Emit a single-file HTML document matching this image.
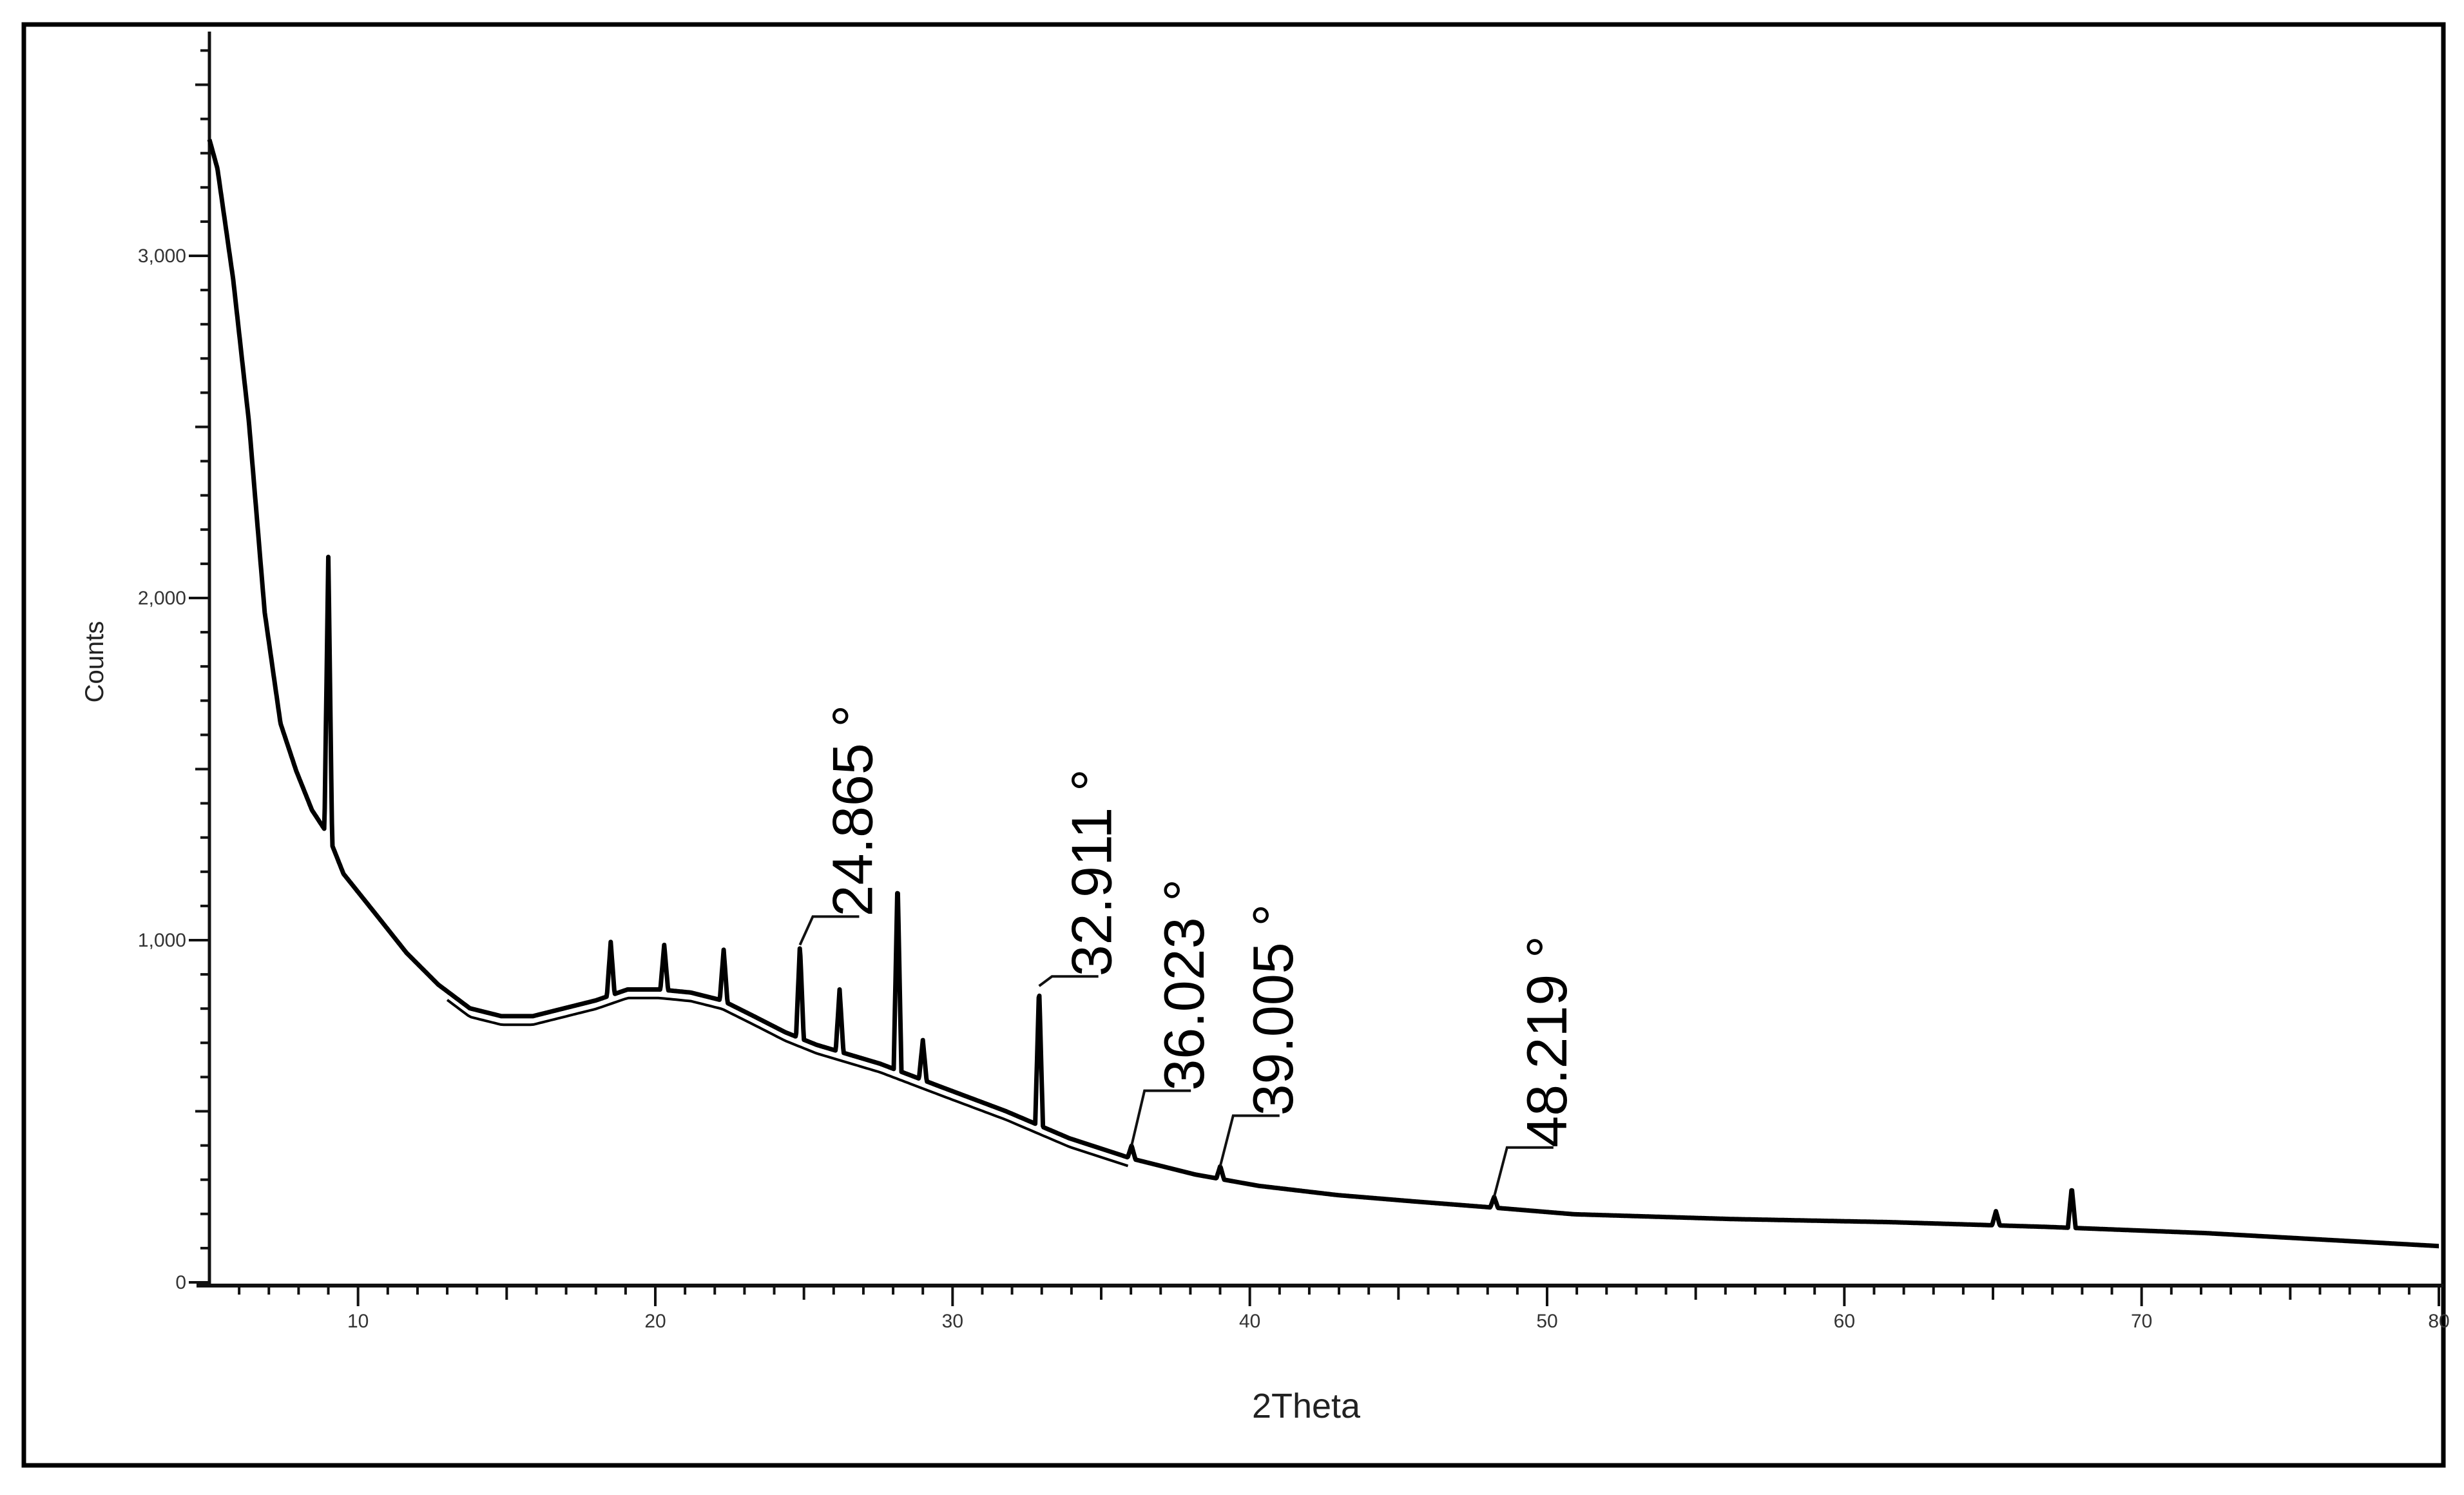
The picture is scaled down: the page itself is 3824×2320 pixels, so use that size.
<!DOCTYPE html>
<html><head><meta charset="utf-8"><style>
html,body{margin:0;padding:0;background:#fff;}
svg{display:block;}
text{font-family:"Liberation Sans",Arial,sans-serif;}
</style></head><body>
<svg id="chart" width="3824" height="2320" viewBox="0 0 3824 2320" xmlns="http://www.w3.org/2000/svg">
<rect x="0" y="0" width="3824" height="2320" fill="#fff"/>
<rect x="37" y="38" width="3755" height="2236" fill="none" stroke="#000" stroke-width="7"/>
<g id="axes"></g>
<g id="series"></g>
<g id="annots"></g>
<text x="2027" y="2200" font-size="54" text-anchor="middle" fill="#222">2Theta</text>
<text transform="translate(160,1027) rotate(-90)" font-size="40" text-anchor="middle" fill="#222">Counts</text>
</svg>
<script>
// background (smoothed) pattern: 2Theta vs counts
const bgTheta = [5,5.27,5.8,6.33,6.86,7.39,7.92,8.45,8.98,9.51,10.57,11.63,12.7,13.76,14.82,15.88,16.94,18,19.07,20.13,21.19,22.25,23.31,24.37,25.43,27.56,29.68,31.8,33.93,36.05,38.17,40.3,42.95,45.6,48.26,50.91,56.22,61.53,66.84,72.14,80];
const bgCounts = [3340,3255,2931,2514,1958,1634,1495,1380,1310,1194,1079,963,870,801,778,778,801,824,856,856,847,824,778,731,694,639,569,500,421,361,315,282,255,236,218,199,185,176,162,144,106];
// sharp peaks
const peakTheta = [9.0,18.5,20.3,22.3,24.865,26.2,28.15,29.0,32.911,36.023,39.005,48.219,65.1,67.65];
const peakTop = [2120,995,986,972,986,856,1180,708,866,400,340,250,208,278];
// annotations
const annotTheta = [24.865,32.911,36.023,39.005,48.219];
const annotLabels = ["24.865 °","32.911 °","36.023 °","39.005 °","48.219 °"];
const annotElbowCounts = [1069,894,560,487,394];
// axis ticks
const xTickLabels = [10,20,30,40,50,60,70,80];
const yTickLabels = [0,1000,2000,3000];

const NS="http://www.w3.org/2000/svg";
const X0=5,X1=80,PX0=325,PX1=3785;
const Y0PX=1990,YSC=0.531;
const sx=v=>PX0+(v-X0)*(PX1-PX0)/(X1-X0);
const sy=c=>Y0PX-c*YSC;
function mk(tag,attrs,parent){const e=document.createElementNS(NS,tag);for(const k in attrs)e.setAttribute(k,attrs[k]);parent.appendChild(e);return e;}
function bg(t){
  if(t<=bgTheta[0])return bgCounts[0];
  for(let i=1;i<bgTheta.length;i++){if(t<=bgTheta[i]){const f=(t-bgTheta[i-1])/(bgTheta[i]-bgTheta[i-1]);return bgCounts[i-1]+f*(bgCounts[i]-bgCounts[i-1]);}}
  return bgCounts[bgCounts.length-1];
}
function val(t){
  let c=bg(t);
  for(let i=0;i<peakTheta.length;i++){const hw=0.13;const d=Math.abs(t-peakTheta[i]);if(d<hw){c+= (peakTop[i]-bg(peakTheta[i]))*(1-d/hw);}}
  return c;
}
const axes=document.getElementById('axes');
let l=mk('line',{x1:sx(X0),y1:49,x2:sx(X0),y2:1997,stroke:'#111','stroke-width':5},axes);


for(let c=0;c<=3600;c+=100){
  const len=(c%1000===0)?32:(c%500===0?22:14);
  const t=mk('line',{x1:sx(X0)-len,y1:sy(c),x2:sx(X0),y2:sy(c),stroke:'#111','stroke-width':4},axes);
  
  
}
yTickLabels.forEach(v=>{
  const t=mk('text',{x:sx(X0)-36,y:sy(v)+10,'font-size':30,'text-anchor':'end',fill:'#333'},axes);
  t.textContent=v===0?'0':v.toLocaleString('en-US');
  
  
});
l=mk('line',{x1:305,y1:1995,x2:3792,y2:1995,stroke:'#111','stroke-width':6},axes);


for(let d=6;d<=80;d++){
  const len=(d%10===0)?32:(d%5===0?22:14);
  const t=mk('line',{x1:sx(d),y1:1995,x2:sx(d),y2:1995+len,stroke:'#111','stroke-width':4},axes);
  
  
}
xTickLabels.forEach(v=>{
  const t=mk('text',{x:sx(v),y:2060,'font-size':30,'text-anchor':'middle',fill:'#333'},axes);
  t.textContent=String(v);
  
  
});
const series=document.getElementById('series');
let d='';
for(let t=X0;t<=X1+1e-9;t+=0.02){d+=(d?'L':'M')+sx(t).toFixed(1)+' '+sy(val(t)).toFixed(1);}
const p=mk('path',{d:d,fill:'none',stroke:'#000','stroke-width':7,'stroke-linejoin':'round'},series);


let d2='';
for(let t=13;t<=36;t+=0.1){d2+=(d2?'L':'M')+sx(t).toFixed(1)+' '+sy(bg(t)-25).toFixed(1);}
const p2=mk('path',{d:d2,fill:'none',stroke:'#000','stroke-width':4},series);


const annots=document.getElementById('annots');
annotTheta.forEach((t,i)=>{
  const px=sx(t), py=sy(val(t)), ey=sy(annotElbowCounts[i]), ex=px+20;
  const g=mk('g',{},annots);
  
  
  mk('polyline',{points:`${px},${py} ${ex},${ey} ${ex+72},${ey}`,fill:'none',stroke:'#111','stroke-width':4},g);
  const tx=mk('text',{transform:`translate(${ex+92},${ey}) rotate(-90)`,'font-size':88,fill:'#000'},g);
  tx.textContent=annotLabels[i];
  
  
});
</script>
</body></html>
